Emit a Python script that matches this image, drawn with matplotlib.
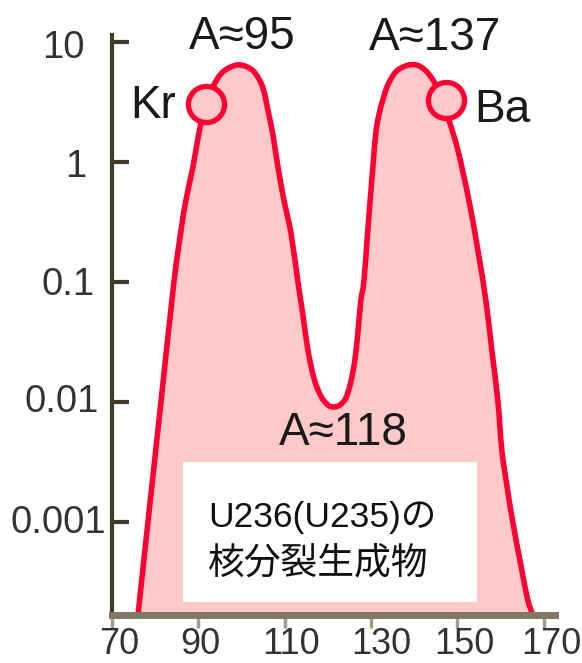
import matplotlib
matplotlib.use("Agg")
import numpy as np
import matplotlib.pyplot as plt
from matplotlib.patches import Rectangle, PathPatch
from matplotlib.path import Path
from matplotlib.transforms import ScaledTranslation, blended_transform_factory

plt.rcParams['font.family'] = ['Liberation Sans', 'DejaVu Sans']

# ---- data: mass number A vs fission yield (%) ----
mass_number = [75.79, 76.02, 78.33, 81.34, 84.35, 85.90, 87.13, 88.75, 90.14, 91.53,
               93.38, 95.23, 97.08, 99.17, 101.25, 103.10, 104.95, 106.34, 107.27,
               108.43, 109.81, 111.44, 113.06, 114.21, 115.37, 116.76, 118.38,
               120.0, 121.39, 122.78, 124.17, 125.32, 126.25, 126.94, 127.64,
               128.33, 129.20, 129.80, 130.42, 131.11, 131.81, 132.73, 133.89,
               135.74, 138.06, 140.37, 142.45, 144.31, 146.16, 148.01, 150.09,
               152.64, 154.72, 156.57, 157.96, 159.35, 160.28, 161.44, 162.82,
               164.68, 166.30, 167.45, 167.92]
yield_pct = [1.39e-4, 1.68e-4, 1.0e-3, 1.0e-2, 0.1, 0.256, 0.482, 0.908, 1.75, 2.82,
             4.22, 5.41, 6.07, 6.43, 6.19, 5.52, 4.14, 2.46, 1.68, 0.908, 0.482,
             0.256, 0.1, 0.0531, 0.0271, 0.0158, 0.0112, 0.00944, 0.00908,
             0.00944, 0.0108, 0.0147, 0.0224, 0.0376, 0.0708, 0.1, 0.256, 0.482,
             0.908, 1.75, 2.46, 3.29, 4.38, 5.62, 6.31, 6.43, 5.85, 4.82, 3.61,
             2.24, 1.26, 0.482, 0.185, 0.0708, 0.0271, 0.0104, 0.00398, 0.00203,
             0.001, 4.39e-4, 2.24e-4, 1.68e-4, 1.39e-4]

# highlighted elements (circles)
element_names = ['Kr', 'Ba']
element_A = [91.8, 147.3]
element_yield = [3.01, 3.29]

y_ticks = [10, 1, 0.1, 0.01, 0.001]
y_tick_labels = ['10', '1', '0.1', '0.01', '0.001']
x_ticks = [70, 90, 110, 130, 150, 170]
x_tick_labels = ['70', '90', '110', '130', '150', '170']

W, H = 582, 663
fig = plt.figure(figsize=(W / 100, H / 100), dpi=100)
fig.patch.set_facecolor('white')
ax = fig.add_axes([112 / W, 48 / H, (555 - 112) / W, (628 - 48) / H])

curve_color = '#ff0033'
fill_color = '#fdc9c9'


def smooth_path(xs, ys):
    """Catmull-Rom curve through the points, in (x, log10 y) space."""
    p = np.column_stack([np.asarray(xs, float), np.log10(ys)])
    n = len(p)
    verts = [p[0]]
    codes = [Path.MOVETO]
    for i in range(n - 1):
        p0 = p[i - 1] if i > 0 else p[i]
        p3 = p[i + 2] if i + 2 < n else p[i + 1]
        c1 = p[i] + (p[i + 1] - p0) / 6.0
        c2 = p[i + 1] - (p3 - p[i]) / 6.0
        verts += [c1, c2, p[i + 1]]
        codes += [Path.CURVE4] * 3
    v = np.array(verts)
    v[:, 1] = 10 ** v[:, 1]
    return v, codes


verts, codes = smooth_path(mass_number, yield_pct)
floor = 1e-7
fill_verts = np.vstack([verts, [[mass_number[-1], floor], [mass_number[0], floor],
                                [mass_number[0], floor]]])
fill_codes = codes + [Path.LINETO, Path.LINETO, Path.CLOSEPOLY]
ax.add_patch(PathPatch(Path(fill_verts, fill_codes), facecolor=fill_color,
                       edgecolor='none', zorder=1))
ax.add_patch(PathPatch(Path(verts, codes), facecolor='none', edgecolor=curve_color,
                       lw=4.0, zorder=2, joinstyle='round', capstyle='round'))
ax.plot(element_A, element_yield, 'o', ms=26, mfc=fill_color, mec=curve_color,
        mew=3.8, zorder=3, linestyle='none')

ax.set_yscale('log')
ax.set_ylim(1.68e-4, 11.4)
ax.set_xlim(70, 172.6)
ax.set_facecolor('white')

for s in ('top', 'right'):
    ax.spines[s].set_visible(False)
ax.spines['left'].set_color('#3f3a2c')
ax.spines['left'].set_linewidth(3)
ax.spines['bottom'].set_color('#7f7864')
ax.spines['bottom'].set_linewidth(5)

ax.set_yticks(y_ticks)
ax.set_yticklabels([])
ax.yaxis.set_minor_locator(matplotlib.ticker.NullLocator())
ax.set_xticks(x_ticks)
ax.set_xticklabels([])
ax.tick_params(axis='y', direction='in', length=12, width=3, color='#3f3a2c')
ax.tick_params(axis='x', direction='out', length=9, width=2.5, color='#a89c80')

# tick labels placed like in the reference (small per-label offsets, in pixels)
ytrans = blended_transform_factory(ax.transAxes, ax.transData)
y_dx = [-27.5, -25.5, -17.5, -13.5, -5.5]
y_dy = [-16, -15, -13, -10, -11]
for v, lab, dx, dy in zip(y_ticks, y_tick_labels, y_dx, y_dy):
    ax.text(0, v, lab, transform=ytrans + ScaledTranslation(dx / 100, dy / 100,
                                                            fig.dpi_scale_trans),
            ha='right', va='baseline', fontsize=27.5, color='#333333', clip_on=False)

xtrans = blended_transform_factory(ax.transData, ax.transAxes)
x_dx = [7, 2, 6.5, 10, 7, 8]
for v, lab, dx in zip(x_ticks, x_tick_labels, x_dx):
    ax.text(v, 0, lab, transform=xtrans + ScaledTranslation(dx / 100, -39 / 100,
                                                            fig.dpi_scale_trans),
            ha='center', va='baseline', fontsize=26, color='#333333', clip_on=False)


def ftext(px, py, s, **kw):
    fig.text(px / W, 1 - py / H, s, **kw)


ann = dict(fontsize=33, color='#1a1a1a', ha='center', va='baseline', zorder=6)
ftext(242, 49, 'A≈95', **ann)
ftext(435, 50, 'A≈137', **ann)
ftext(343, 445, 'A≈118', **ann)
ftext(153, 118, element_names[0], **ann)
ftext(502, 122, element_names[1], **ann)

box = Rectangle((183 / W, 1 - 602 / H), (477 - 183) / W, (602 - 462) / H,
                transform=fig.transFigure, facecolor='white', edgecolor='none',
                zorder=5)
fig.patches.append(box)
box_font = dict(color='#111111', ha='left', va='baseline', zorder=7,
                family=['Liberation Sans', 'Noto Sans CJK JP', 'DejaVu Sans'])
ftext(208, 527, 'U236(U235)の', fontsize=25.5, **box_font)
ftext(208, 573, '核分裂生成物', fontsize=26.5, **box_font)

fig.savefig('out.png', dpi=100, facecolor='white')
